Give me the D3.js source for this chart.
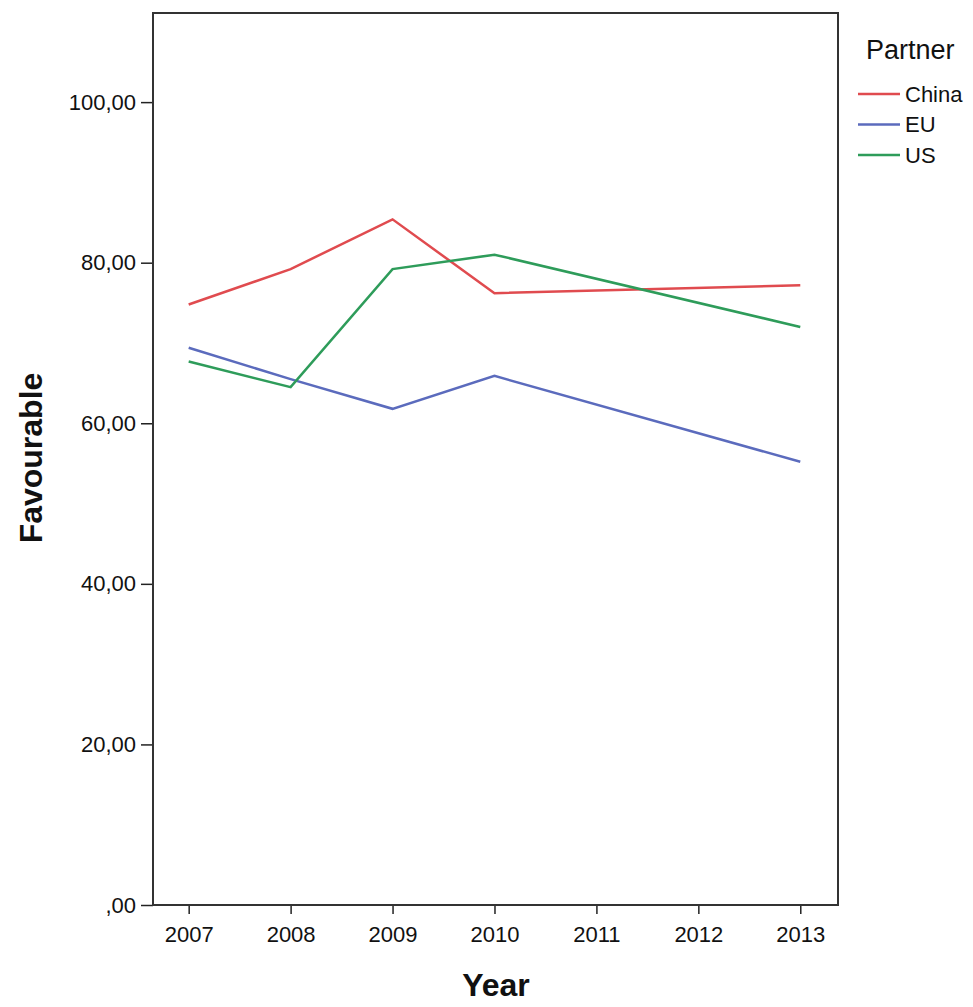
<!DOCTYPE html>
<html>
<head>
<meta charset="utf-8">
<script src="https://cdn.jsdelivr.net/npm/d3@7"></script>
<style>
  body { margin: 0; background: #fff; }
  text { font-family: "Liberation Sans", Arial, sans-serif; fill: #111; }
</style>
</head>
<body>
<div id="d3Canvas"></div>
<script>
const width = 973;
const height = 1007;

// data
const years = [2007, 2008, 2009, 2010, 2011, 2012, 2013];
const partners = ["China", "EU", "US"];
const chinaYears = [2007, 2008, 2009, 2010, 2013];
const chinaValues = [74.8, 79.2, 85.4, 76.2, 77.2];
const euYears = [2007, 2008, 2009, 2010, 2013];
const euValues = [69.4, 65.5, 61.8, 65.9, 55.2];
const usYears = [2007, 2008, 2009, 2010, 2013];
const usValues = [67.7, 64.5, 79.2, 81.0, 72.0];
const yTicks = [0, 20, 40, 60, 80, 100];

const colors = { China: "#e04b4f", EU: "#5b6bbd", US: "#2e9c5a" };

const series = [
  { name: "China", pts: chinaYears.map((y, i) => [y, chinaValues[i]]) },
  { name: "EU", pts: euYears.map((y, i) => [y, euValues[i]]) },
  { name: "US", pts: usYears.map((y, i) => [y, usValues[i]]) }
];

const plotLeft = 153, plotRight = 838, plotTop = 13, plotBottom = 905;

const svg = d3.select("#d3Canvas")
  .append("svg")
  .attr("width", width)
  .attr("height", height);

const x = d3.scaleLinear()
  .domain([2006.65, 2013.37])
  .range([plotLeft, plotRight]);

const y = d3.scaleLinear()
  .domain([0, 111.1])
  .range([plotBottom, plotTop]);

const fmt = (d) => {
  let s = d3.format(".2f")(d).replace(".", ",");
  if (s.startsWith("0,")) s = s.slice(1);
  return s;
};

// y axis
const yAxis = d3.axisLeft(y).tickValues(yTicks).tickFormat(fmt).tickSize(12).tickPadding(5);
const gy = svg.append("g")
  .attr("transform", "translate(" + plotLeft + ",0)")
  .call(yAxis);
gy.select(".domain").remove();
gy.selectAll(".tick line").attr("stroke", "#222").attr("stroke-width", 1.5);
gy.selectAll(".tick text").style("font-size", "22px").attr("fill", "#111");

// x axis
const xAxis = d3.axisBottom(x).tickValues(years).tickFormat(d3.format("d")).tickSize(9).tickPadding(12);
const gx = svg.append("g")
  .attr("transform", "translate(0," + plotBottom + ")")
  .call(xAxis);
gx.select(".domain").remove();
gx.selectAll(".tick line").attr("stroke", "#222").attr("stroke-width", 1.5);
gx.selectAll(".tick text").style("font-size", "22px").attr("fill", "#111");

// frame
svg.append("rect")
  .attr("x", plotLeft)
  .attr("y", plotTop)
  .attr("width", plotRight - plotLeft)
  .attr("height", plotBottom - plotTop)
  .attr("fill", "none")
  .attr("stroke", "#333")
  .attr("stroke-width", 2);

const line = d3.line()
  .x((d) => x(d[0]))
  .y((d) => y(d[1]));

svg.selectAll(".series")
  .data(series)
  .enter()
  .append("path")
  .attr("class", "series")
  .attr("d", (d) => line(d.pts))
  .attr("fill", "none")
  .attr("stroke", (d) => colors[d.name])
  .attr("stroke-width", 2.5);

// axis titles
svg.append("text")
  .attr("x", 496)
  .attr("y", 996)
  .attr("text-anchor", "middle")
  .style("font-size", "32px")
  .style("font-weight", "bold")
  .text("Year");

svg.append("text")
  .attr("transform", "translate(42," + 458 + ") rotate(-90)")
  .attr("text-anchor", "middle")
  .style("font-size", "32px")
  .style("font-weight", "bold")
  .text("Favourable");

// legend
svg.append("text")
  .attr("x", 866)
  .attr("y", 59)
  .style("font-size", "27px")
  .attr("fill", "#222")
  .text("Partner");

const legend = svg.selectAll(".legend")
  .data(partners)
  .enter()
  .append("g")
  .attr("class", "legend")
  .attr("transform", (d, i) => "translate(858," + (94 + i * 30.5) + ")");

legend.append("line")
  .attr("x1", 0)
  .attr("x2", 42)
  .attr("stroke", (d) => colors[d])
  .attr("stroke-width", 2.5);

legend.append("text")
  .attr("x", 47)
  .attr("dy", "0.36em")
  .style("font-size", "22px")
  .text((d) => d);
</script>
</body>
</html>
